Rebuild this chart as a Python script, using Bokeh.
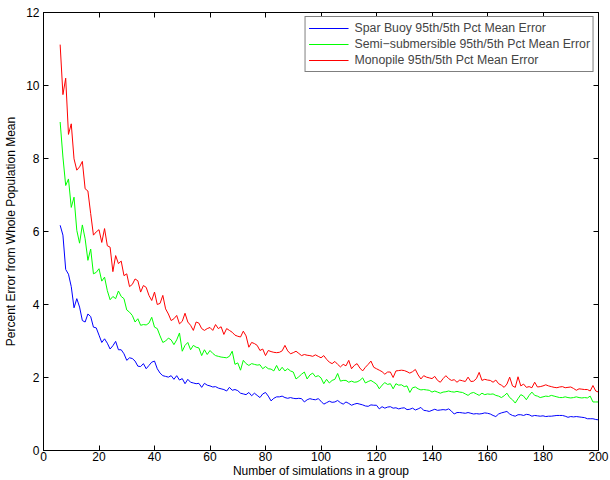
from bokeh.plotting import figure
from bokeh.models import (Range1d, LinearAxis, SingleIntervalTicker, Legend, LegendItem)
from bokeh.embed import file_html
from bokeh.resources import INLINE

group_size = list(range(6, 201))

spar = [
    6.17, 5.9, 4.96, 4.83, 4.49, 3.91, 4.16, 3.93, 3.56, 3.52,
    3.74, 3.67, 3.38, 3.36, 3.16, 2.96, 3.06, 2.94, 2.78, 2.87,
    2.99, 2.76, 2.76, 2.65, 2.47, 2.54, 2.52, 2.45, 2.31, 2.3,
    2.38, 2.24, 2.33, 2.42, 2.45, 2.24, 2.12, 2.05, 2.03, 2.01,
    2.05, 1.95, 2.05, 1.93, 1.97, 1.83, 1.95, 1.87, 1.85, 1.83,
    1.84, 1.73, 1.84, 1.79, 1.77, 1.74, 1.75, 1.71, 1.69, 1.67,
    1.63, 1.73, 1.65, 1.67, 1.64, 1.57, 1.55, 1.53, 1.59, 1.5,
    1.57, 1.51, 1.45, 1.55, 1.59, 1.49, 1.36, 1.43, 1.47, 1.47,
    1.49, 1.45, 1.43, 1.45, 1.43, 1.42, 1.43, 1.42, 1.33, 1.39,
    1.42, 1.4, 1.39, 1.42, 1.35, 1.27, 1.31, 1.35, 1.32, 1.33,
    1.37, 1.31, 1.27, 1.33, 1.29, 1.24, 1.27, 1.29, 1.27, 1.25,
    1.22, 1.21, 1.25, 1.24, 1.24, 1.14, 1.2, 1.16, 1.19, 1.2,
    1.16, 1.17, 1.14, 1.16, 1.17, 1.12, 1.13, 1.16, 1.11, 1.14,
    1.18, 1.1, 1.09, 1.07, 1.1, 1.13, 1.1, 1.11, 1.12, 1.11,
    1.14, 1.08, 1.0, 1.04, 1.04, 1.03, 1.02, 1.04, 1.02, 1.0,
    1.01, 1.0, 1.01, 1.03, 1.02, 1.0, 0.96, 0.93, 1.0, 1.03,
    1.05, 1.07, 1.0, 0.96, 0.94, 0.98, 0.98, 0.96, 0.99, 0.98,
    0.94, 0.96, 0.95, 0.94, 0.95, 0.93, 0.94, 0.94, 0.95, 0.96,
    0.96, 0.96, 0.94, 0.91, 0.93, 0.92, 0.93, 0.92, 0.91, 0.9,
    0.87, 0.87, 0.87, 0.85, 0.84,
]

semi = [
    9.0, 8.04, 7.26, 7.44, 6.66, 6.94, 6.03, 5.68, 6.18, 5.8,
    5.21, 5.52, 4.84, 4.88, 4.98, 4.64, 4.75, 4.38, 4.13, 4.22,
    4.16, 4.37, 4.22, 4.16, 3.85, 3.79, 3.7, 3.52, 3.61, 3.43,
    3.45, 3.44, 3.49, 3.65, 3.38, 3.34, 3.14, 2.96, 3.0, 3.08,
    3.03, 2.9, 3.03, 3.22, 2.72, 2.88, 2.96, 2.76, 2.88, 2.83,
    2.81, 2.6, 2.76, 2.63, 2.74, 2.66, 2.6, 2.58, 2.56, 2.55,
    2.54, 2.58, 2.72, 2.36, 2.4, 2.2, 2.47, 2.38, 2.33, 2.38,
    2.36, 2.34, 2.35, 2.24, 2.3, 2.24, 2.23, 2.18, 2.33, 2.18,
    2.28, 2.18, 2.24, 2.18, 2.15, 1.96, 2.02, 2.09, 2.15, 1.96,
    2.07, 2.12, 2.02, 2.05, 1.99, 1.83, 1.95, 1.85, 1.92, 1.95,
    2.11, 1.9, 1.92, 1.92, 1.87, 1.9, 1.87, 1.88, 1.92, 1.99,
    1.85, 1.89, 1.92, 1.87, 1.82, 1.69, 1.79, 1.86, 1.81, 1.83,
    1.69, 1.83, 1.79, 1.8, 1.75, 1.77, 1.59, 1.72, 1.74, 1.69,
    1.66, 1.67, 1.66, 1.65, 1.6, 1.63, 1.6, 1.57, 1.6, 1.61,
    1.63, 1.61, 1.6, 1.62, 1.6, 1.59, 1.55, 1.51, 1.57, 1.59,
    1.55, 1.51, 1.57, 1.53, 1.55, 1.54, 1.55, 1.51, 1.49, 1.45,
    1.5, 1.57, 1.45, 1.39, 1.3, 1.42, 1.53, 1.49, 1.39, 1.51,
    1.6, 1.51, 1.49, 1.45, 1.47, 1.49, 1.48, 1.51, 1.49, 1.47,
    1.45, 1.45, 1.47, 1.45, 1.44, 1.45, 1.47, 1.45, 1.44, 1.45,
    1.44, 1.49, 1.33, 1.33, 1.33,
]

monopile = [
    11.12, 9.75, 10.2, 8.66, 8.95, 7.99, 7.68, 7.77, 7.92, 7.17,
    7.11, 6.49, 5.9, 5.99, 6.05, 5.7, 6.08, 5.61, 5.57, 4.9,
    5.34, 5.12, 5.19, 4.79, 4.84, 4.49, 4.55, 4.70, 4.65, 4.34,
    4.52, 4.47, 4.25, 4.11, 4.34, 4.0, 4.03, 4.25, 3.88, 3.74,
    3.56, 3.61, 3.70, 3.47, 3.54, 3.76, 3.52, 3.43, 3.29, 3.52,
    3.49, 3.34, 3.29, 3.34, 3.37, 3.29, 3.45, 3.34, 3.39, 3.18,
    3.34, 3.29, 3.24, 3.16, 3.13, 3.11, 3.27, 3.14, 2.83, 2.96,
    2.93, 2.88, 2.74, 2.78, 2.6, 2.74, 2.71, 2.69, 2.68, 2.69,
    2.73, 2.88, 2.73, 2.65, 2.68, 2.72, 2.66, 2.6, 2.63, 2.61,
    2.6, 2.58, 2.62, 2.58, 2.54, 2.6, 2.5, 2.42, 2.38, 2.44,
    2.36, 2.29, 2.36, 2.32, 2.47, 2.24, 2.33, 2.38, 2.26, 2.18,
    2.28, 2.36, 2.45, 2.28, 2.24, 2.2, 2.16, 2.09, 2.15, 2.15,
    2.0, 2.18, 2.19, 2.2, 2.19, 2.16, 2.12, 2.16, 2.22, 2.07,
    1.96, 2.05, 2.01, 1.99, 1.97, 2.03, 1.92, 1.87, 1.97, 2.05,
    1.97, 1.92, 1.94, 1.87, 1.93, 1.91, 1.89, 2.01, 1.89, 1.9,
    1.97, 2.14, 1.92, 1.95, 1.93, 1.92, 1.87, 1.93, 1.83, 1.79,
    1.73, 1.82, 2.01, 1.77, 1.73, 2.02, 1.77, 1.82, 1.73, 1.75,
    1.72, 1.87, 1.74, 1.75, 1.77, 1.8, 1.77, 1.75, 1.73, 1.72,
    1.74, 1.75, 1.72, 1.73, 1.74, 1.7, 1.65, 1.69, 1.68, 1.67,
    1.67, 1.63, 1.78, 1.63, 1.6,
]

series_names = [
    "Spar Buoy 95th/5th Pct Mean Error",
    "Semi\u2212submersible 95th/5th Pct Mean Error",
    "Monopile 95th/5th Pct Mean Error",
]
series_values = [spar, semi, monopile]
series_colors = ["blue", "lime", "red"]

FONT = "Liberation Sans"

p = figure(width=610, height=480, output_backend="svg", toolbar_location=None,
           x_range=Range1d(0, 200), y_range=Range1d(0, 12),
           min_border_left=43, min_border_right=12, min_border_top=12,
           min_border_bottom=30, x_axis_type=None, y_axis_type=None)
p.grid.visible = False
p.outline_line_color = "black"
p.background_fill_color = "white"
p.border_fill_color = "white"

def style_axis(ax, show_labels):
    ax.axis_line_color = "black"
    ax.axis_line_width = 1
    ax.major_tick_in = 5
    ax.major_tick_out = 0
    ax.minor_tick_in = 0
    ax.minor_tick_out = 0
    ax.major_tick_line_color = "black"
    ax.minor_tick_line_color = None
    ax.major_label_text_font = FONT
    ax.axis_label_text_font = FONT
    ax.axis_label_text_font_style = "normal"
    ax.axis_label_text_color = "black"
    if show_labels:
        ax.major_label_text_color = "black"
        ax.major_label_text_font_size = "12px"
        ax.axis_label_text_font_size = "12px"
    else:
        ax.major_label_text_color = None
        ax.major_label_text_font_size = "1px"
        ax.major_label_standoff = 0

xb = LinearAxis(ticker=SingleIntervalTicker(interval=20), axis_label="Number of simulations in a group")
style_axis(xb, True)
xb.major_label_standoff = 1
xb.axis_label_standoff = 0
p.add_layout(xb, "below")

yl = LinearAxis(ticker=SingleIntervalTicker(interval=2), axis_label="Percent Error from Whole Population Mean")
style_axis(yl, True)
yl.major_label_standoff = 4
yl.axis_label_standoff = 5
p.add_layout(yl, "left")

xt = LinearAxis(ticker=SingleIntervalTicker(interval=20))
style_axis(xt, False)
p.add_layout(xt, "above")

yr = LinearAxis(ticker=SingleIntervalTicker(interval=2))
style_axis(yr, False)
p.add_layout(yr, "right")

items = []
for name, vals, col in zip(series_names, series_values, series_colors):
    r = p.line(group_size, vals, line_color=col, line_width=1)
    items.append(LegendItem(label=name, renderers=[r]))

legend = Legend(items=items, location="top_right", margin=4, padding=3, spacing=0,
                glyph_width=40, glyph_height=16, label_height=16, label_standoff=6,
                label_text_font=FONT, label_text_font_size="12.3px",
                border_line_color="black", border_line_width=1,
                background_fill_color="white", background_fill_alpha=1.0)
p.add_layout(legend, "center")

open("out.html", "w").write(file_html(p, INLINE))
